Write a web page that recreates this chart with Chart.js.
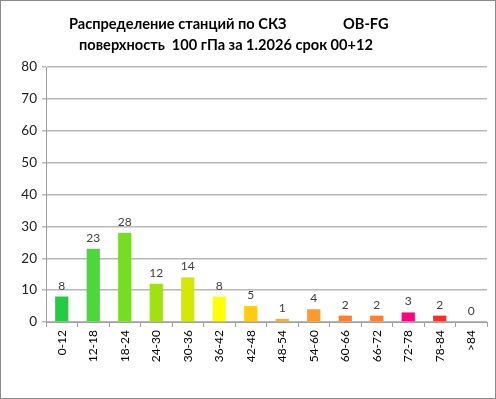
<!DOCTYPE html>
<html><head><meta charset="utf-8">
<script src="https://cdn.jsdelivr.net/npm/chart.js@4"></script>
<style>html,body{margin:0;padding:0;background:#fff}#wrap{position:relative;width:496px;height:399px}</style>
</head><body><div id="wrap"><canvas id="c" width="496" height="399"></canvas></div>
<script>
const categories = ['0-12','12-18','18-24','24-30','30-36','36-42','42-48','48-54','54-60','60-66','66-72','72-78','78-84','>84'];
const counts = [8,23,28,12,14,8,5,1,4,2,2,3,2,0];
const barColors = ['#22CC44','#4CD83A','#77DD22','#A3E012','#D4E800','#FFFF00','#FFCC11','#F7B11E','#FF9A2A','#FF7F2A','#FF7F2A','#FF0080','#FF2A2A','#FF2A2A'];
const yTicks = [0,10,20,30,40,50,60,70,80];
const titleLine1a = 'Распределение станций по СКЗ';
const titleLine1b = 'OB-FG';
const titleLine2 = 'поверхность  100 гПа за 1.2026 срок 00+12';
const FONT = 'Lato, "Open Sans", sans-serif';

const decor = {
  id:'decor',
  beforeDraw(chart){
    const ctx = chart.ctx;
    ctx.save();
    ctx.fillStyle='#fff'; ctx.fillRect(0,0,chart.width,chart.height);
    ctx.strokeStyle='#8a8a8a'; ctx.lineWidth=1;
    ctx.strokeRect(0.5,0.5,chart.width-1,chart.height-1);
    ctx.restore();
  },
  afterDraw(chart){
    const ctx = chart.ctx;
    ctx.save();
    ctx.fillStyle='#000';
    ctx.font = 'bold 14.6px ' + FONT;
    ctx.textBaseline='alphabetic';
    ctx.textAlign='left';
    ctx.fillText(titleLine1a, 69, 29);
    ctx.fillText(titleLine1b, 343, 29);
    ctx.textAlign='center';
    ctx.fillText(titleLine2, 226, 50);
    ctx.restore();
  },
  afterDatasetsDraw(chart){
    const ctx = chart.ctx;
    const meta = chart.getDatasetMeta(0);
    ctx.save();
    ctx.fillStyle='#404040';
    ctx.font = '12px ' + FONT;
    ctx.textAlign='center';
    ctx.textBaseline='alphabetic';
    meta.data.forEach((el,i)=>{
      ctx.fillText(String(counts[i]), el.x, el.y - 7);
    });
    ctx.restore();
  }
};

new Chart(document.getElementById('c'), {
  type:'bar',
  data:{labels:categories, datasets:[{data:counts, backgroundColor:barColors, borderWidth:0, categoryPercentage:1, barPercentage:0.42}]},
  options:{
    responsive:false, animation:false,
    layout:{padding:{top:67,right:9,left:0,bottom:0}},
    plugins:{legend:{display:false},title:{display:false},tooltip:{enabled:false}},
    scales:{
      x:{
        grid:{display:true, drawOnChartArea:false, offset:true, color:'#a0a0a0', tickLength:5},
        border:{color:'#a0a0a0'},
        ticks:{maxRotation:90,minRotation:90,color:'#000',font:{family:FONT,size:12},padding:3},
        afterFit(s){s.height=77;}
      },
      y:{
        min:0,max:80,
        afterBuildTicks(s){s.ticks = yTicks.map(v=>({value:v}));},
        grid:{color:'#b8b8b8',lineWidth:1.5,tickLength:4},
        border:{color:'#a0a0a0'},
        ticks:{color:'#222',font:{family:FONT,size:13.5},padding:5},
        afterFit(s){s.width=46;}
      }
    }
  },
  plugins:[decor]
});
</script></body></html>
